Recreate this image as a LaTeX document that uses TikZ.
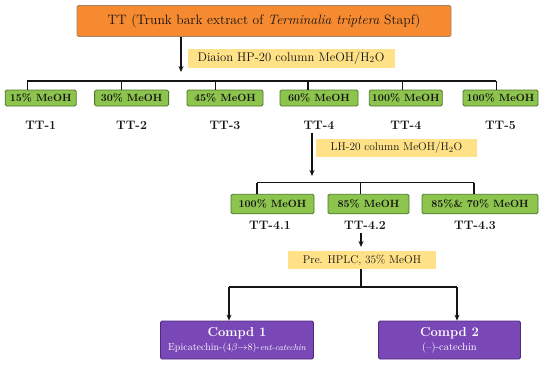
\documentclass[tikz,border=0pt]{standalone}
\usepackage{amsmath,amssymb}
\usepackage{xcolor}
\definecolor{ttOrange}  {RGB}{245, 138,  48}
\definecolor{ttGreen}   {RGB}{141, 196,  78}
\definecolor{ttGreenDk} {RGB}{ 78, 118,  40}
\definecolor{ttYellow}  {RGB}{255, 226, 135}
\definecolor{ttPurple}  {RGB}{122,  72, 182}
\definecolor{ttPurpleDk}{RGB}{ 78,  42, 128}
\definecolor{ttInk}     {RGB}{ 20,  20,  20}
\usepackage{tikz}
\usetikzlibrary{
  arrows.meta,
  positioning,
  calc,
}

\begin{document}
\begin{tikzpicture}[
  x=1pt, y=1pt,
  >={Stealth[length=6pt,width=5pt]},
  box/.style={draw, rounded corners=1.5pt, inner sep=0pt, align=center,
              text=ttInk},
  src/.style={box, fill=ttOrange, draw=gray!70!ttOrange, line width=0.8pt,
              minimum width=374, minimum height=31, font=\fontsize{13.6}{15}\selectfont},
  frac/.style={box, fill=ttGreen, draw=ttGreenDk, line width=0.8pt,
               minimum height=16, font=\bfseries\fontsize{10.5}{12}\selectfont},
  cmpd/.style={box, fill=ttPurple, draw=ttPurpleDk, line width=0.8pt,
               minimum height=38, text=white},
  cond/.style={fill=ttYellow, inner sep=0pt, minimum height=19,
               font=\fontsize{11.3}{13}\selectfont, text=ttInk},
  tag/.style={font=\bfseries\fontsize{12.3}{14}\selectfont, text=ttInk},
  link/.style={line width=1.2pt, ttInk},
  flow/.style={link, ->},
]
  \useasboundingbox (0,0) rectangle (550,-365);

  % Crude extract on top
  \node[src] (tt) at (264,-21)
    {TT (Trunk bark extract of \textit{Terminalia triptera} Stapf)};

  % First column: arrow, condition, splitter bar
  \coordinate (a1) at (181,-72);
  \draw[flow] (tt.south -| a1) -- (a1);
  \node[cond, minimum width=207, font=\fontsize{12.6}{14}\selectfont] (c1) at (291,-58)
    {Diaion HP-20 column MeOH/H$_2$O};
  \coordinate (b1L) at (27,-81);
  \coordinate (b1R) at (496,-81);
  \draw[link] (b1L) -- (b1R);

  % Fractions of the first column (centre / drop / width / text / tag)
  \foreach \i/\cx/\dx/\w/\txt/\lab in {
      1/40.7/27.4/71/15\% MeOH/TT-1,
      2/131.6/121.7/74/30\% MeOH/TT-2,
      3/225/215.8/76/45\% MeOH/TT-3,
      4/319/308/78/60\% MeOH/TT-4,
      5/405.8/402.8/73/100\% MeOH/TT-4,
      6/500.5/496.3/75/100\% MeOH/TT-5}{
    \node[frac, minimum width=\w] (f\i) at (\cx,-98) {\txt};
    \node[tag] (t\i) at (\cx,-125) {\lab};
    \coordinate (d\i) at (\dx,-81);
    \draw[link] (d\i) -- (f\i.north -| d\i);
  }

  % Second column on TT-4
  \coordinate (a2) at (312,-176);
  \draw[flow] (t4.south -| a2) -- (a2);
  \node[cond, minimum width=161, minimum height=17.5] (c2) at (396.5,-148)
    {LH-20 column MeOH/H$_2$O};
  \coordinate (b2L) at (257,-182.5);
  \coordinate (b2R) at (474,-182.5);
  \draw[link] (b2L) -- (b2R);

  \foreach \i/\cx/\dx/\w/\txt/\lab/\lx in {
      1/272.5/257/83/100\% MeOH/TT-4.1/270,
      2/368.5/360.7/81/85\% MeOH/TT-4.2/365,
      3/480/474/116/85\%\& 70\% MeOH/TT-4.3/475}{
    \node[frac, minimum width=\w, minimum height=19.5] (g\i) at (\cx,-204) {\txt};
    \node[tag] (u\i) at (\lx,-225) {\lab};
    \coordinate (e\i) at (\dx,-182.5);
    \draw[link] (e\i) -- (g\i.north -| e\i);
  }

  % Prep HPLC on TT-4.2
  \coordinate (a3) at (361,-247);
  \draw[flow] (u2.south -| a3) -- (a3);
  \node[cond, minimum width=148, minimum height=18.5] (c3) at (362,-260)
    {Pre. HPLC, 35\% MeOH};
  \coordinate (j3) at (361,-287);
  \draw[link] (c3.south -| j3) -- (j3);

  % Pure compounds
  \node[cmpd, minimum width=153] (k1) at (237,-340)
    {{\bfseries\fontsize{13}{14}\selectfont Compd 1}\\[2pt]
     {\fontsize{10}{12}\selectfont Epicatechin-(4$\beta{\rightarrow}$8)-{\itshape\fontsize{8.6}{10}\selectfont ent-catechin}}};
  \node[cmpd, minimum width=142] (k2) at (449.5,-340)
    {{\bfseries\fontsize{13}{14}\selectfont Compd 2}\\[2pt]
     {\fontsize{10.5}{12}\selectfont (--)-catechin}};
  \coordinate (h1) at (229,-287);
  \coordinate (h2) at (457,-287);
  \draw[link] (h1) -- (h2);
  \draw[flow] (h1) -- (k1.north -| h1);
  \draw[flow] (h2) -- (k2.north -| h2);
\end{tikzpicture}
\end{document}
